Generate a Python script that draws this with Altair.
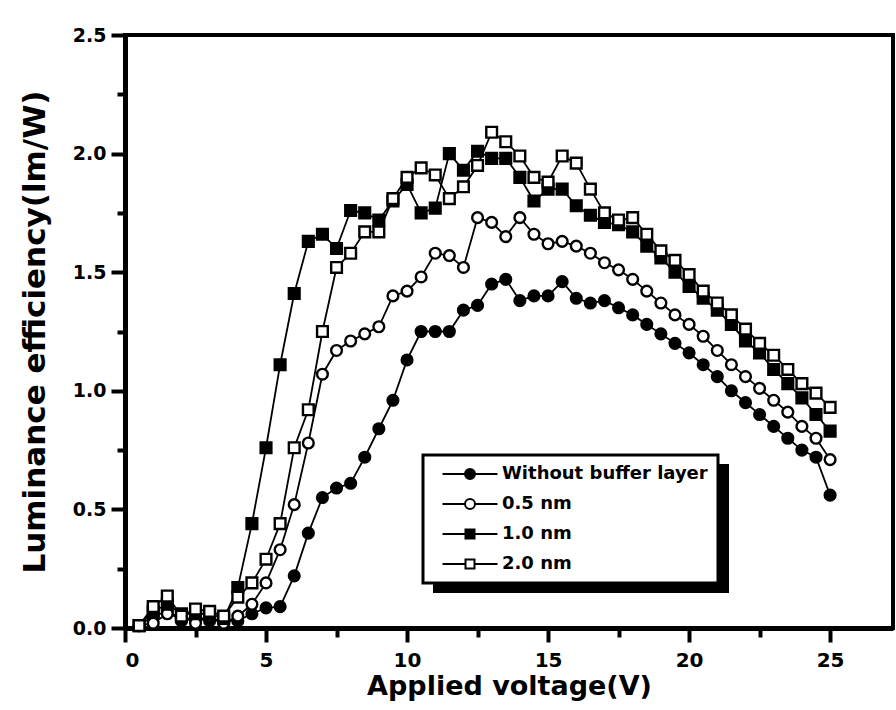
import altair as alt
import pandas as pd

voltage = [0.5, 1.0, 1.5, 2.0, 2.5, 3.0, 3.5, 4.0, 4.5, 5.0,
           5.5, 6.0, 6.5, 7.0, 7.5, 8.0, 8.5, 9.0, 9.5, 10.0,
           10.5, 11.0, 11.5, 12.0, 12.5, 13.0, 13.5, 14.0, 14.5, 15.0,
           15.5, 16.0, 16.5, 17.0, 17.5, 18.0, 18.5, 19.0, 19.5, 20.0,
           20.5, 21.0, 21.5, 22.0, 22.5, 23.0, 23.5, 24.0, 24.5, 25.0]

without_buffer = [0.01, 0.05, 0.07, 0.03, 0.05, 0.03, 0.03, 0.03, 0.06, 0.085,
                  0.09, 0.22, 0.40, 0.55, 0.59, 0.61, 0.72, 0.84, 0.96, 1.13,
                  1.25, 1.25, 1.25, 1.34, 1.36, 1.45, 1.47, 1.38, 1.40, 1.40,
                  1.46, 1.39, 1.37, 1.38, 1.35, 1.32, 1.28, 1.24, 1.20, 1.16,
                  1.11, 1.06, 1.00, 0.95, 0.90, 0.85, 0.80, 0.75, 0.72, 0.56]

nm05 = [0.01, 0.02, 0.06, 0.05, 0.02, 0.05, 0.02, 0.05, 0.10, 0.19,
        0.33, 0.52, 0.78, 1.07, 1.17, 1.21, 1.24, 1.27, 1.40, 1.42,
        1.48, 1.58, 1.57, 1.52, 1.73, 1.71, 1.65, 1.73, 1.66, 1.62,
        1.63, 1.61, 1.58, 1.54, 1.51, 1.47, 1.42, 1.37, 1.32, 1.28,
        1.23, 1.17, 1.11, 1.06, 1.01, 0.96, 0.91, 0.85, 0.80, 0.71]

nm10 = [0.01, 0.07, 0.10, 0.06, 0.06, 0.06, 0.04, 0.17, 0.44, 0.76,
        1.11, 1.41, 1.63, 1.66, 1.60, 1.76, 1.75, 1.72, 1.80, 1.87,
        1.75, 1.77, 2.00, 1.93, 2.01, 1.98, 1.98, 1.90, 1.80, 1.85,
        1.85, 1.78, 1.74, 1.71, 1.70, 1.67, 1.61, 1.56, 1.50, 1.44,
        1.39, 1.34, 1.28, 1.21, 1.16, 1.09, 1.03, 0.97, 0.90, 0.83]

nm20 = [0.01, 0.09, 0.135, 0.05, 0.08, 0.07, 0.05, 0.13, 0.19, 0.29,
        0.44, 0.76, 0.92, 1.25, 1.52, 1.58, 1.67, 1.67, 1.81, 1.90,
        1.94, 1.91, 1.81, 1.86, 1.95, 2.09, 2.05, 1.99, 1.90, 1.88,
        1.99, 1.96, 1.85, 1.75, 1.72, 1.73, 1.66, 1.59, 1.55, 1.49,
        1.42, 1.37, 1.32, 1.26, 1.20, 1.15, 1.09, 1.03, 0.99, 0.93]

series_names = ["Without buffer layer", "0.5 nm", "1.0 nm", "2.0 nm"]
marker_shapes = ["circle", "circle", "square", "square"]
marker_fills = ["black", "white", "black", "white"]
marker_strokes = ["black", "black", "black", "black"]

x_ticks = [0, 2.5, 5, 7.5, 10, 12.5, 15, 17.5, 20, 22.5, 25]
y_ticks = [0, 0.25, 0.5, 0.75, 1.0, 1.25, 1.5, 1.75, 2.0, 2.25, 2.5]

rows = []
for name, vals in zip(series_names, [without_buffer, nm05, nm10, nm20]):
    for v, e in zip(voltage, vals):
        rows.append({"series": name, "grp": name, "voltage": v, "eff": e})
df = pd.DataFrame(rows)

FONT = "DejaVu Sans"

# legend glyphs: line - marker - line
circ = "M1,0A1,1,0,1,1,-1,0A1,1,0,1,1,1,0Z"
sq = "M-0.9,-0.9L0.9,-0.9L0.9,0.9L-0.9,0.9Z"
lines_c = "M-5.5,0L-1,0M1,0L5.5,0"
lines_s = "M-5.5,0L-0.9,0M0.9,0L5.5,0"
legend_paths = [lines_c + circ, lines_c + circ, lines_s + sq, lines_s + sq]

x_scale = alt.Scale(domain=[0, 27.23], nice=False, zero=False)
y_scale = alt.Scale(domain=[0, 2.5], nice=False)

x_axis = alt.Axis(
    title="Applied voltage(V)", values=x_ticks,
    labelExpr="datum.value % 5 === 0 ? format(datum.value, 'd') : ''",
    tickSize={"condition": {"test": "datum.value % 5 === 0", "value": 14}, "value": 9},
    labelPadding=8, titlePadding=3, grid=False,
)
y_axis = alt.Axis(
    title="Luminance efficiency(lm/W)", values=y_ticks,
    labelExpr="(round(datum.value*100) % 50 === 0) ? format(datum.value, '.1f') : ''",
    tickSize={"condition": {"test": "round(datum.value*100) % 50 === 0", "value": 14}, "value": 8},
    labelPadding=5, titlePadding=21, grid=False,
)

base = alt.Chart(df)

lines = base.mark_line(color="black", strokeWidth=1.8).encode(
    x=alt.X("voltage:Q", scale=x_scale, axis=x_axis),
    y=alt.Y("eff:Q", scale=y_scale, axis=y_axis),
    detail="series:N",
    order="voltage:Q",
)

points = base.mark_point(filled=True, size=115, strokeWidth=2.4, opacity=1).encode(
    x=alt.X("voltage:Q", scale=x_scale),
    y=alt.Y("eff:Q", scale=y_scale),
    shape=alt.Shape("grp:N", scale=alt.Scale(domain=series_names, range=marker_shapes), legend=None),
    fill=alt.Fill("grp:N", scale=alt.Scale(domain=series_names, range=marker_fills), legend=None),
    stroke=alt.value("black"),
)

shadow = alt.Chart(pd.DataFrame({"k": [0]})).mark_rect(color="black").encode(
    x=alt.value(308), x2=alt.value(604), y=alt.value(429), y2=alt.value(558)
)

leg = alt.Legend(
    title=None, orient="none", legendX=298, legendY=420, direction="vertical",
    strokeColor="black", fillColor="white", padding=10,
    labelFont=FONT, labelFontWeight="bold", labelFontSize=18, labelColor="black",
    labelLimit=400,
    symbolSize=100, symbolStrokeWidth=2, symbolStrokeColor="black", symbolOpacity=1,
    symbolOffset=28, rowPadding=12, labelOffset=23,
)

legend_layer = base.transform_filter("datum.voltage < 0").mark_point(
    filled=True, strokeWidth=2, opacity=1
).encode(
    x=alt.X("voltage:Q", scale=x_scale),
    y=alt.Y("eff:Q", scale=y_scale),
    shape=alt.Shape("series:N", scale=alt.Scale(domain=series_names, range=legend_paths), legend=leg),
    fill=alt.Fill("series:N", scale=alt.Scale(domain=series_names, range=marker_fills), legend=leg),
    stroke=alt.Stroke("series:N", scale=alt.Scale(domain=series_names, range=marker_strokes), legend=leg),
)

chart = alt.layer(lines, points, shadow, legend_layer).resolve_scale(
    shape="independent", fill="independent", stroke="independent"
).properties(
    width=768, height=593,
    autosize=alt.AutoSizeParams(type="none"),
    padding={"left": 125, "top": 35, "right": 3, "bottom": 82},
    background="white",
).configure_view(
    stroke="black", strokeWidth=4
).configure_axis(
    domainColor="black", domainWidth=5, tickColor="black", tickWidth=4,
    labelFont=FONT, labelFontWeight="bold", labelFontSize=20, labelColor="black",
    titleFont=FONT, titleFontWeight="bold", titleFontSize=27, titleColor="black",
).configure_axisY(
    labelFontSize=19, titleFontSize=31
).configure_legend(
    strokeWidth=3
)

chart.save("out.html", embed_options={"renderer": "svg", "actions": False})
